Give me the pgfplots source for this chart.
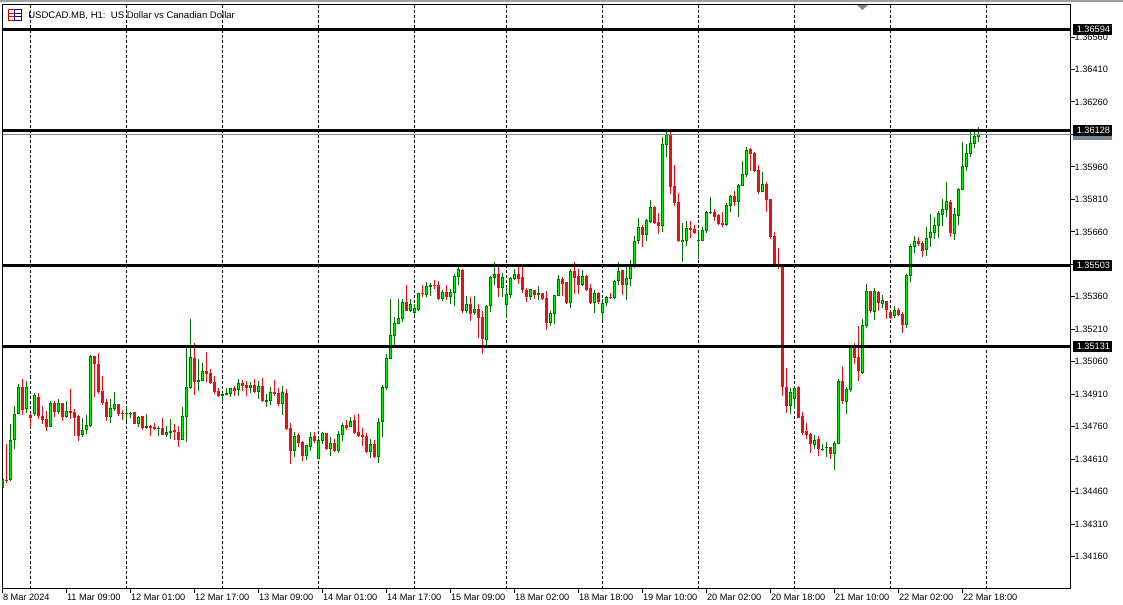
\documentclass[border=0pt]{standalone}
\usepackage{fontspec}
\setmainfont{Liberation Sans}
\usepackage{pgfplots}
\usepackage{pgfplotstable}
\pgfplotsset{compat=1.18}

% 1 px of the reference = 0.75pt
\definecolor{bullbody}{RGB}{0,255,0}
\definecolor{bullline}{RGB}{0,110,0}
\definecolor{bearcol}{RGB}{232,16,24}
\definecolor{bidcol}{RGB}{119,136,153}

\pgfplotsset{candle/.style 2 args={forget plot, draw=none, no markers,
    error bars/.cd, y dir=plus, y explicit, error mark=none,
    error bar style={draw=#1, line width=#2, solid}}}

% x = bar number, bot/top = candle body, low/high = wick
\pgfplotstableread{
x bot top low high
0 1.34477 1.34520 1.34477 1.34520
2 1.34512 1.34700 1.34508 1.34771
3 1.34700 1.34820 1.34657 1.34854
4 1.34820 1.34941 1.34817 1.34956
6 1.34842 1.34945 1.34823 1.34970
8 1.34819 1.34904 1.34810 1.34914
12 1.34759 1.34868 1.34759 1.34877
14 1.34828 1.34868 1.34817 1.34887
16 1.34803 1.34831 1.34799 1.34877
20 1.34722 1.34746 1.34711 1.34799
21 1.34745 1.34766 1.34725 1.34813
22 1.34762 1.35085 1.34757 1.35090
27 1.34803 1.34845 1.34776 1.34887
28 1.34840 1.34864 1.34831 1.34919
31 1.34819 1.34825 1.34787 1.34850
32 1.34819 1.34825 1.34799 1.34827
34 1.34771 1.34803 1.34757 1.34808
36 1.34753 1.34762 1.34748 1.34817
39 1.34750 1.34756 1.34716 1.34762
41 1.34720 1.34734 1.34711 1.34762
42 1.34730 1.34739 1.34702 1.34794
45 1.34697 1.34808 1.34697 1.34850
46 1.34805 1.34942 1.34688 1.35128
47 1.34937 1.35081 1.34933 1.35256
49 1.34965 1.34974 1.34923 1.35071
50 1.34970 1.35016 1.34970 1.35053
55 1.34903 1.34910 1.34868 1.34919
56 1.34905 1.34914 1.34905 1.34937
57 1.34910 1.34937 1.34896 1.34937
59 1.34928 1.34960 1.34900 1.34979
62 1.34937 1.34951 1.34914 1.34965
64 1.34919 1.34946 1.34886 1.34970
66 1.34873 1.34882 1.34849 1.34910
67 1.34877 1.34919 1.34859 1.34942
70 1.34863 1.34919 1.34812 1.34946
73 1.34646 1.34715 1.34618 1.34734
76 1.34623 1.34674 1.34605 1.34674
77 1.34665 1.34711 1.34646 1.34734
79 1.34609 1.34697 1.34609 1.34715
80 1.34692 1.34729 1.34679 1.34734
82 1.34655 1.34683 1.34623 1.34711
84 1.34646 1.34725 1.34637 1.34739
85 1.34720 1.34766 1.34692 1.34776
87 1.34757 1.34785 1.34757 1.34803
92 1.34642 1.34679 1.34614 1.34702
94 1.34620 1.34780 1.34591 1.34799
95 1.34780 1.34942 1.34711 1.34951
96 1.34937 1.35076 1.34928 1.35094
97 1.35071 1.35182 1.35071 1.35349
98 1.35178 1.35238 1.35136 1.35265
99 1.35233 1.35261 1.35233 1.35349
100 1.35256 1.35335 1.35242 1.35349
102 1.35293 1.35326 1.35289 1.35349
103 1.35284 1.35307 1.35275 1.35326
104 1.35298 1.35376 1.35293 1.35376
106 1.35367 1.35409 1.35358 1.35427
107 1.35407 1.35413 1.35362 1.35423
110 1.35349 1.35381 1.35339 1.35390
112 1.35358 1.35381 1.35326 1.35395
113 1.35376 1.35455 1.35316 1.35464
114 1.35450 1.35487 1.35413 1.35501
116 1.35293 1.35326 1.35284 1.35362
118 1.35284 1.35302 1.35275 1.35362
121 1.35159 1.35316 1.35136 1.35321
122 1.35316 1.35450 1.35289 1.35455
123 1.35446 1.35464 1.35413 1.35520
125 1.35399 1.35450 1.35358 1.35469
126 1.35321 1.35372 1.35261 1.35409
127 1.35367 1.35446 1.35353 1.35450
128 1.35444 1.35464 1.35436 1.35487
132 1.35358 1.35395 1.35344 1.35395
134 1.35367 1.35376 1.35344 1.35409
137 1.35238 1.35284 1.35224 1.35293
138 1.35279 1.35367 1.35233 1.35367
139 1.35362 1.35441 1.35362 1.35459
142 1.35330 1.35478 1.35307 1.35487
145 1.35414 1.35455 1.35409 1.35483
148 1.35331 1.35377 1.35284 1.35391
150 1.35284 1.35331 1.35252 1.35349
151 1.35331 1.35358 1.35317 1.35363
153 1.35354 1.35432 1.35349 1.35437
154 1.35432 1.35478 1.35414 1.35520
156 1.35414 1.35446 1.35344 1.35497
157 1.35441 1.35501 1.35409 1.35529
158 1.35501 1.35617 1.35492 1.35640
159 1.35617 1.35682 1.35603 1.35723
161 1.35645 1.35714 1.35617 1.35719
162 1.35705 1.35774 1.35700 1.35806
165 1.35686 1.36065 1.35659 1.36097
166 1.36060 1.36111 1.36005 1.36121
170 1.35612 1.35622 1.35520 1.35700
171 1.35617 1.35677 1.35594 1.35709
174 1.35619 1.35622 1.35534 1.35663
175 1.35619 1.35668 1.35617 1.35682
176 1.35663 1.35751 1.35654 1.35756
177 1.35745 1.35751 1.35742 1.35820
181 1.35691 1.35783 1.35686 1.35793
182 1.35779 1.35825 1.35751 1.35829
184 1.35797 1.35876 1.35728 1.35880
185 1.35871 1.35927 1.35871 1.35987
186 1.35922 1.36037 1.35913 1.36051
190 1.35843 1.35880 1.35843 1.35936
197 1.34855 1.34920 1.34818 1.34938
198 1.34887 1.34938 1.34841 1.34947
203 1.34675 1.34698 1.34656 1.34721
205 1.34656 1.34659 1.34647 1.34679
206 1.34661 1.34665 1.34619 1.34689
208 1.34633 1.34684 1.34559 1.34693
209 1.34679 1.34970 1.34679 1.34980
211 1.34873 1.34933 1.34818 1.34943
212 1.34929 1.35129 1.34920 1.35132
215 1.35007 1.35229 1.35003 1.35257
216 1.35224 1.35386 1.35215 1.35419
218 1.35289 1.35386 1.35252 1.35400
220 1.35326 1.35345 1.35308 1.35368
223 1.35270 1.35298 1.35261 1.35317
226 1.35229 1.35460 1.35215 1.35465
227 1.35455 1.35594 1.35428 1.35603
228 1.35589 1.35617 1.35562 1.35640
231 1.35575 1.35631 1.35548 1.35682
232 1.35631 1.35659 1.35589 1.35742
233 1.35654 1.35691 1.35626 1.35728
234 1.35686 1.35746 1.35631 1.35756
235 1.35737 1.35765 1.35686 1.35811
236 1.35760 1.35802 1.35728 1.35890
238 1.35649 1.35742 1.35622 1.35769
239 1.35732 1.35857 1.35691 1.35862
240 1.35853 1.35963 1.35853 1.36074
241 1.35959 1.36024 1.35940 1.36065
242 1.36019 1.36070 1.36005 1.36121
243 1.36065 1.36102 1.36047 1.36121
244 1.36097 1.36111 1.36074 1.36144
}\bullbars

\pgfplotstableread{
x bot top low high
1 1.34512 1.34515 1.34500 1.34679
5 1.34837 1.34941 1.34813 1.34979
7 1.34800 1.34813 1.34759 1.34823
9 1.34810 1.34896 1.34794 1.34914
10 1.34790 1.34811 1.34771 1.34854
11 1.34759 1.34794 1.34739 1.34831
13 1.34827 1.34868 1.34803 1.34877
15 1.34803 1.34868 1.34785 1.34868
17 1.34822 1.34831 1.34794 1.34933
18 1.34800 1.34827 1.34716 1.34840
19 1.34716 1.34808 1.34693 1.34813
23 1.35048 1.35085 1.34896 1.35085
24 1.34919 1.35048 1.34910 1.35099
25 1.34868 1.34924 1.34859 1.34993
26 1.34803 1.34873 1.34785 1.34887
29 1.34817 1.34864 1.34808 1.34864
30 1.34817 1.34822 1.34790 1.34836
33 1.34771 1.34827 1.34771 1.34827
35 1.34753 1.34808 1.34743 1.34808
37 1.34753 1.34762 1.34716 1.34766
38 1.34748 1.34757 1.34743 1.34776
40 1.34720 1.34753 1.34720 1.34799
43 1.34734 1.34743 1.34697 1.34771
44 1.34697 1.34734 1.34665 1.34762
48 1.34965 1.35076 1.34905 1.35145
51 1.35002 1.35016 1.34965 1.35104
52 1.34960 1.35007 1.34956 1.35025
53 1.34919 1.34965 1.34910 1.34993
54 1.34900 1.34923 1.34896 1.34937
58 1.34923 1.34937 1.34900 1.34946
60 1.34946 1.34960 1.34923 1.34974
61 1.34937 1.34951 1.34900 1.34970
63 1.34919 1.34951 1.34914 1.34979
65 1.34877 1.34946 1.34873 1.34983
68 1.34910 1.34919 1.34900 1.34974
69 1.34863 1.34914 1.34854 1.34937
71 1.34748 1.34914 1.34743 1.34933
72 1.34646 1.34752 1.34586 1.34776
74 1.34683 1.34720 1.34665 1.34729
75 1.34623 1.34688 1.34600 1.34692
78 1.34692 1.34715 1.34683 1.34734
81 1.34655 1.34729 1.34651 1.34729
83 1.34646 1.34683 1.34642 1.34702
86 1.34752 1.34766 1.34743 1.34789
88 1.34729 1.34789 1.34725 1.34812
89 1.34715 1.34734 1.34711 1.34817
90 1.34711 1.34720 1.34669 1.34752
91 1.34642 1.34715 1.34637 1.34729
93 1.34618 1.34679 1.34614 1.34697
101 1.35293 1.35335 1.35293 1.35413
105 1.35372 1.35376 1.35358 1.35413
108 1.35409 1.35413 1.35395 1.35436
109 1.35349 1.35413 1.35344 1.35432
111 1.35358 1.35381 1.35344 1.35413
115 1.35293 1.35483 1.35284 1.35487
117 1.35279 1.35326 1.35247 1.35358
119 1.35261 1.35302 1.35168 1.35326
120 1.35164 1.35265 1.35095 1.35293
124 1.35399 1.35464 1.35358 1.35496
129 1.35441 1.35464 1.35418 1.35496
130 1.35390 1.35450 1.35376 1.35496
131 1.35358 1.35390 1.35335 1.35399
133 1.35367 1.35390 1.35349 1.35390
135 1.35349 1.35376 1.35344 1.35376
136 1.35238 1.35353 1.35205 1.35386
140 1.35418 1.35441 1.35362 1.35450
141 1.35330 1.35427 1.35326 1.35427
143 1.35446 1.35478 1.35372 1.35520
144 1.35414 1.35455 1.35372 1.35488
146 1.35391 1.35455 1.35386 1.35460
147 1.35331 1.35400 1.35326 1.35418
149 1.35335 1.35377 1.35326 1.35381
152 1.35354 1.35358 1.35349 1.35377
155 1.35414 1.35483 1.35367 1.35483
160 1.35645 1.35682 1.35589 1.35691
163 1.35700 1.35774 1.35696 1.35779
164 1.35686 1.35705 1.35649 1.35746
167 1.35866 1.36111 1.35834 1.36121
168 1.35793 1.35871 1.35779 1.35968
169 1.35617 1.35797 1.35612 1.35839
172 1.35668 1.35677 1.35631 1.35709
173 1.35654 1.35672 1.35649 1.35691
178 1.35728 1.35751 1.35709 1.35765
179 1.35696 1.35737 1.35691 1.35742
180 1.35691 1.35700 1.35682 1.35751
183 1.35797 1.35825 1.35779 1.35848
187 1.36019 1.36042 1.35940 1.36047
188 1.35940 1.36024 1.35936 1.36028
189 1.35843 1.35945 1.35834 1.35968
191 1.35806 1.35880 1.35751 1.35890
192 1.35635 1.35811 1.35626 1.35811
193 1.35511 1.35640 1.35505 1.35659
194 1.35502 1.35511 1.35488 1.35585
195 1.34944 1.35506 1.34901 1.35506
196 1.34855 1.34943 1.34823 1.35030
199 1.34799 1.34943 1.34799 1.34947
200 1.34730 1.34809 1.34721 1.34827
201 1.34721 1.34739 1.34702 1.34776
202 1.34679 1.34726 1.34638 1.34730
204 1.34656 1.34702 1.34624 1.34716
207 1.34633 1.34665 1.34610 1.34665
210 1.34878 1.34970 1.34864 1.35040
213 1.35077 1.35129 1.35049 1.35146
214 1.35017 1.35081 1.34970 1.35224
217 1.35294 1.35386 1.35285 1.35386
219 1.35331 1.35382 1.35294 1.35386
221 1.35298 1.35340 1.35257 1.35340
222 1.35261 1.35289 1.35257 1.35294
224 1.35275 1.35298 1.35270 1.35307
225 1.35229 1.35280 1.35192 1.35289
229 1.35603 1.35617 1.35594 1.35635
230 1.35571 1.35608 1.35543 1.35617
237 1.35654 1.35797 1.35635 1.35806
}\bearbars

\begin{document}
\begin{tikzpicture}
\fontsize{6.9pt}{8pt}\selectfont
\begin{axis}[
    at={(1.875pt,-441.375pt)}, anchor=south west,
    scale only axis, width=801pt, height=438pt,
    xmin=0, xmax=267,
    ymin=1.340122, ymax=1.367104,
    axis line style={line width=0.75pt},
    tick style={black, line width=0.75pt},
    tick align=outside,
    xtick pos=bottom, ytick pos=right, yticklabel pos=right,
    major tick length=3.4pt,
    xtick={0,16,...,240},
    xticklabels={8 Mar 2024,11 Mar 09:00,12 Mar 01:00,12 Mar 17:00,13 Mar 09:00,14 Mar 01:00,14 Mar 17:00,15 Mar 09:00,18 Mar 02:00,18 Mar 18:00,19 Mar 10:00,20 Mar 02:00,20 Mar 18:00,21 Mar 10:00,22 Mar 02:00,22 Mar 18:00},
    xticklabel style={anchor=north west, inner sep=0pt, xshift=0.2pt, yshift=-0.6pt},
    ytick={1.3416,1.3431,1.3446,1.3461,1.3476,1.3491,1.3506,1.3521,1.3536,1.3551,1.3566,1.3581,1.3596,1.3611,1.3626,1.3641,1.3656},
    yticklabels={1.34160,1.34310,1.34460,1.34610,1.34760,1.34910,1.35060,1.35210,1.35360,1.35510,1.35660,1.35810,1.35960,1.36110,1.36260,1.36410,1.36560},
    yticklabel style={anchor=west, inner sep=0pt, xshift=-0.5pt},
    scaled y ticks=false,
    extra x ticks={7,31,55,79,103,126,150,174,198,222,246},
    extra x tick labels={},
    extra x tick style={major tick length=0pt, grid=major,
        major grid style={black, line width=0.75pt, dash pattern=on 2.25pt off 1.5pt}},
]
% wicks, then bodies: dark outline with a lime core
\addplot[candle={bullline}{0.75pt}]
    table[x=x, y=low, y error plus expr=\thisrow{high}-\thisrow{low}] {\bullbars};
\addplot[candle={bullline}{2.4pt}]
    table[x=x, y=bot, y error plus expr=\thisrow{top}-\thisrow{bot}] {\bullbars};
\addplot[candle={bullbody}{1.05pt}]
    table[x=x, y expr=\thisrow{bot}+0.0000462, y error plus expr={max(\thisrow{top}-\thisrow{bot}-0.0000924,0)}] {\bullbars};
\addplot[candle={bearcol}{0.75pt}]
    table[x=x, y=low, y error plus expr=\thisrow{high}-\thisrow{low}] {\bearbars};
\addplot[candle={bearcol}{2.4pt}]
    table[x=x, y=bot, y error plus expr=\thisrow{top}-\thisrow{bot}] {\bearbars};
% bid line and the four horizontal levels
\addplot[bidcol, line width=0.75pt] coordinates {(0,1.36110) (267,1.36110)};
\addplot[black, line width=2.25pt] coordinates {(0,1.36594) (267,1.36594)};
\addplot[black, line width=2.25pt] coordinates {(0,1.36128) (267,1.36128)};
\addplot[black, line width=2.25pt] coordinates {(0,1.35503) (267,1.35503)};
\addplot[black, line width=2.25pt] coordinates {(0,1.35131) (267,1.35131)};
\end{axis}
% frame furniture in image pixels, origin top left
\begin{scope}[x=0.75pt, y=-0.75pt]
\path[use as bounding box] (0,0) rectangle (1123,605);
\fill[gray!75] (0,0) rectangle (1123,2);
\fill[bidcol] (857,5) -- (868,5) -- (862.5,10) -- cycle;
% chart icon
\draw[red!80!black, line width=0.75pt, fill=white] (8,10) rectangle (14.5,21);
\draw[blue!70!black, line width=0.75pt, fill=white] (14.5,10) rectangle (21,21);
\draw[red!80!black, line width=0.75pt] (8,13.5) -- (14.5,13.5) (8,17) -- (14.5,17);
\draw[blue!70!black, line width=0.75pt] (14.5,13.5) -- (21,13.5) (14.5,17) -- (21,17);
\node[anchor=west, inner sep=0pt, font=\fontsize{7.15pt}{8pt}\selectfont] at (28,15.5) {USDCAD.MB, H1:\ \ US Dollar vs Canadian Dollar};
% price labels, over the tick numbers
\fill[bidcol] (1073,129) rectangle (1112,140);
\foreach \yy/\lab in {29.5/1.36594,130.5/1.36128,265.5/1.35503,346.5/1.35131}{
  \fill[black] (1073,\yy-5.5) rectangle (1112,\yy+5.5);
  \node[anchor=west, inner sep=0pt, text=white] at (1076.5,\yy) {\lab};
}
\end{scope}
\end{tikzpicture}
\end{document}
